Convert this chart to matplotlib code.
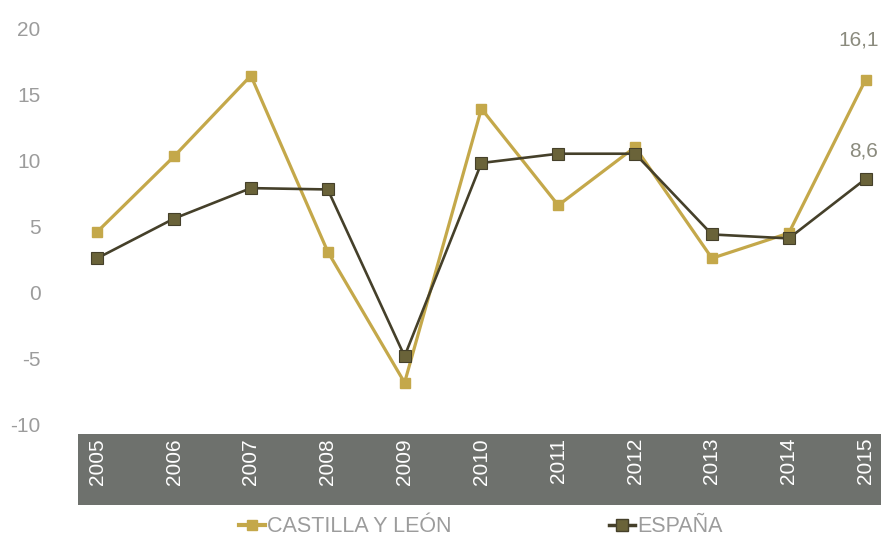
import numpy as np
import matplotlib.pyplot as plt
from matplotlib.patches import Rectangle
from matplotlib.lines import Line2D

# ============================================================
# Data
# ============================================================

YEARS = ["2005", "2006", "2007", "2008", "2009", "2010",
         "2011", "2012", "2013", "2014", "2015"]

CASTILLA = [4.6, 10.3, 16.4, 3.1, -6.8, 13.9, 6.6, 11.0, 2.6, 4.5, 16.1]
ESPANA = [2.6, 5.6, 7.9, 7.8, -4.8, 9.8, 10.5, 10.5, 4.4, 4.1, 8.6]

SERIES_NAMES = ["CASTILLA Y LEÓN", "ESPAÑA"]
END_LABELS = ["16,1", "8,6"]

Y_TICKS = [-10, -5, 0, 5, 10, 15, 20]

# ============================================================
# Style
# ============================================================

GOLD = "#C4A84A"
OLIVE_LINE = "#45402A"
OLIVE_FACE = "#6A6339"
BAND = "#6E716D"
TICK_GRAY = "#9C9C9C"
LABEL_GRAY = "#8B8B7E"

plt.rcParams.update({
    "font.family": ["Liberation Sans", "DejaVu Sans"],
})

W, H = 881, 538
fig = plt.figure(figsize=(W / 100, H / 100), dpi=100)

# axes in pixel coords: left 78, right 881, top y=28 (20), bottom y=425 (-10)
ax = fig.add_axes([78 / W, (H - 425) / H, (W - 78) / W, (425 - 28) / H])

x = np.arange(len(YEARS))

ax.plot(x, CASTILLA, color=GOLD, linewidth=2.3, marker="s", markersize=6.5,
        markerfacecolor=GOLD, markeredgecolor=GOLD, zorder=3)
ax.plot(x, ESPANA, color=OLIVE_LINE, linewidth=1.9, marker="s", markersize=8,
        markerfacecolor=OLIVE_FACE, markeredgecolor=OLIVE_LINE,
        markeredgewidth=0.8, zorder=4)

ax.annotate(END_LABELS[0], xy=(x[-1], CASTILLA[-1]), xytext=(-7, 30),
            textcoords="offset pixels", ha="center", va="bottom",
            fontsize=15, color=LABEL_GRAY)
ax.annotate(END_LABELS[1], xy=(x[-1], ESPANA[-1]), xytext=(-2, 18),
            textcoords="offset pixels", ha="center", va="bottom",
            fontsize=15, color=LABEL_GRAY)

ax.set_xlim(-0.25, 10.2)
ax.set_ylim(-10, 20)
ax.set_yticks(Y_TICKS)
ax.set_yticklabels([str(t) for t in Y_TICKS], fontsize=15, color=TICK_GRAY)
ax.tick_params(axis="y", length=0, pad=27)
ax.set_xticks([])
for s in ax.spines.values():
    s.set_visible(False)

# gray category band below the plot
band = Rectangle((78 / W, (H - 505) / H), (W - 78) / W, (505 - 434) / H,
                 transform=fig.transFigure, facecolor=BAND, edgecolor="none")
fig.patches.append(band)

band_top = (H - 438) / H
for i, yr in enumerate(YEARS):
    xf = fig.transFigure.inverted().transform(ax.transData.transform((x[i], 0)))[0]
    fig.text(xf, band_top, yr, rotation=90, ha="center", va="top",
             color="white", fontsize=15)

# legend
handles = [
    Line2D([0], [0], color=GOLD, linewidth=3, marker="s", markersize=7,
           markerfacecolor=GOLD, markeredgecolor=GOLD),
    Line2D([0], [0], color=OLIVE_LINE, linewidth=2.5, marker="s", markersize=8,
           markerfacecolor=OLIVE_FACE, markeredgecolor=OLIVE_LINE),
]
fig.legend(handles, SERIES_NAMES, loc="center", bbox_to_anchor=(481 / W, (H - 527) / H),
           ncol=2, frameon=False, fontsize=15.5, labelcolor=TICK_GRAY,
           handlelength=1.2, handletextpad=0.1, columnspacing=7.3,
           borderaxespad=0)

fig.savefig("out.png", dpi=100)
